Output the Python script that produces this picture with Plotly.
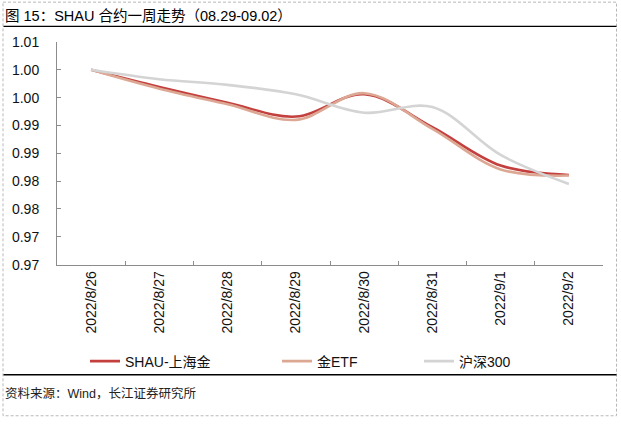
import plotly.graph_objects as go

# ---- data ----
dates = ["2022/8/26", "2022/8/27", "2022/8/28", "2022/8/29",
         "2022/8/30", "2022/8/31", "2022/9/1", "2022/9/2"]
shau = [1.0000, 0.9969, 0.9941, 0.9916, 0.9956, 0.9897, 0.9828, 0.9811]
etf = [1.0000, 0.9966, 0.9938, 0.9910, 0.9958, 0.9894, 0.9821, 0.9810]
hs300 = [1.0000, 0.9983, 0.9973, 0.9956, 0.9923, 0.9933, 0.9847, 0.9795]
series_names = ["SHAU-上海金", "金ETF", "沪深300"]
y_tickvals = [1.005, 1.000, 0.995, 0.990, 0.985, 0.980, 0.975, 0.970, 0.965]
y_ticktext = ["1.01", "1.00", "1.00", "0.99", "0.99", "0.98", "0.98", "0.97", "0.97"]
title_text = "图 15：SHAU 合约一周走势（08.29-09.02）"
source_text = "资料来源：Wind，长江证券研究所"

W, H = 621, 431
ML, MR, MT, MB = 57, 18, 42, 160
PW, PH = W - ML - MR, H - MT - MB


def xp(px):
    return (px - ML) / PW


def yp(py):
    return (H - MB - py) / PH


FONT = "Liberation Sans, Arial, Noto Sans CJK SC, sans-serif"
colors = ["#C4403F", "#DCA894", "#D4D4D4"]

fig = go.Figure()
for i, (name, vals) in enumerate(zip(series_names, [shau, etf, hs300])):
    fig.add_trace(go.Scatter(
        x=dates, y=vals, name=name, mode="lines",
        line=dict(color=colors[i], width=2.6, shape="spline", smoothing=1.0),
        legend=["legend", "legend2", "legend3"][i],
        hoverinfo="skip",
    ))

leg_common = dict(orientation="h", xref="container", yref="container",
                  yanchor="middle", xanchor="left", bgcolor="rgba(0,0,0,0)",
                  borderwidth=0, font=dict(family=FONT, size=14, color="#111111"),
                  itemwidth=30)
leg_x = [85, 277, 419]
fig.update_layout(
    width=W, height=H,
    margin=dict(l=ML, r=MR, t=MT, b=MB, pad=0),
    paper_bgcolor="white", plot_bgcolor="white",
    font=dict(family=FONT, size=14, color="#111111"),
    showlegend=True,
    legend=dict(x=leg_x[0] / W, y=1 - 361.5 / H, **leg_common),
    legend2=dict(x=leg_x[1] / W, y=1 - 361.5 / H, **leg_common),
    legend3=dict(x=leg_x[2] / W, y=1 - 361.5 / H, **leg_common),
    xaxis=dict(
        type="category", showgrid=False, zeroline=False,
        showline=True, linecolor="#8C8C8C", linewidth=1,
        ticks="inside", ticklen=4, tickcolor="#8C8C8C", tickson="boundaries",
        tickangle=-90, tickfont=dict(family=FONT, size=14, color="#111111"),
        range=[-0.5, len(dates) - 0.5],
    ),
    yaxis=dict(
        range=[0.965, 1.005], showgrid=False, zeroline=False,
        showline=True, linecolor="#8C8C8C", linewidth=1,
        ticks="inside", ticklen=4, tickcolor="#8C8C8C",
        tickvals=y_tickvals, ticktext=y_ticktext,
        tickfont=dict(family=FONT, size=14, color="#111111"),
        ticklabelstandoff=14,
    ),
    shapes=[
        dict(type="rect", xref="paper", yref="paper",
             x0=xp(3), x1=xp(616.5), y0=yp(1), y1=yp(426.5),
             line=dict(color="#B8B8B8", width=1, dash="3px,2px"),
             fillcolor="rgba(0,0,0,0)", layer="below"),
        dict(type="line", xref="paper", yref="paper",
             x0=xp(3.5), x1=xp(616.5), y0=yp(26), y1=yp(26),
             line=dict(color="#000000", width=1.3)),
        dict(type="line", xref="paper", yref="paper",
             x0=xp(3.5), x1=xp(616.5), y0=yp(384.3), y1=yp(384.3),
             line=dict(color="#000000", width=1.3)),
    ],
    annotations=[
        dict(text=title_text, xref="paper", yref="paper", x=xp(3), y=yp(15.5),
             xanchor="left", yanchor="middle", showarrow=False,
             font=dict(family=FONT, size=14.5, color="#000000")),
        dict(text=source_text, xref="paper", yref="paper", x=xp(3), y=yp(403.5),
             xanchor="left", yanchor="middle", showarrow=False,
             font=dict(family=FONT, size=12.5, color="#222222")),
    ],
)

fig.write_html("out.html",
               config={"displayModeBar": False, "staticPlot": True},
               post_script="document.body.style.margin='0';document.body.style.padding='0';")
